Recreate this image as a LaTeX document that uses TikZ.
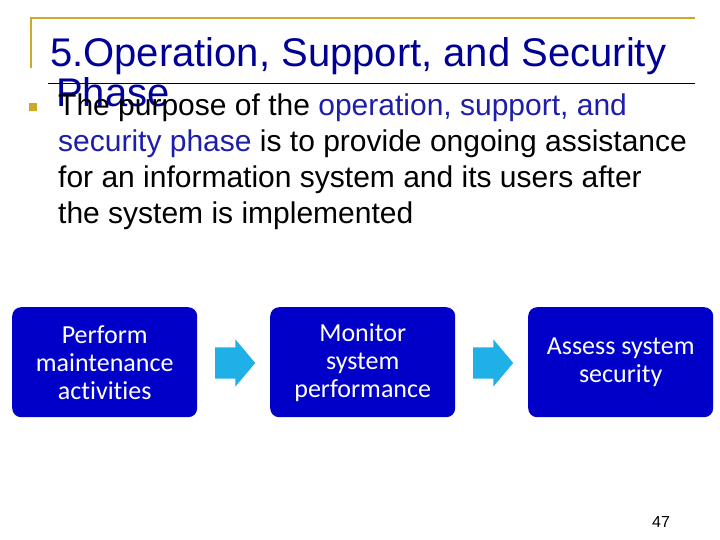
\documentclass[tikz,border=0pt]{standalone}
\usepackage{fontspec}
\setmainfont{Liberation Sans}
\newfontfamily\boxfont[Ligatures={NoCommon}]{Carlito}
\usetikzlibrary{shapes.arrows}
\definecolor{gold}{RGB}{204,170,40}
\definecolor{titleblue}{RGB}{0,0,150}
\definecolor{hlblue}{RGB}{30,30,170}
\definecolor{boxblue}{RGB}{0,0,200}
\definecolor{arrowcyan}{RGB}{30,176,230}
\begin{document}
\begin{tikzpicture}[x=1pt,y=-1pt,
  stepbox/.style={draw=none,fill=boxblue,rounded corners=9pt,minimum width=185pt,minimum height=110pt,text=white,align=center,font=\boxfont\fontsize{26}{28}\selectfont,anchor=north west,inner sep=0pt},
  blockarrow/.style={single arrow,fill=arrowcyan,draw=none,minimum height=40pt,inner xsep=0pt,inner ysep=15.5pt,single arrow head extend=8pt,single arrow tip angle=100,anchor=west},
  txt/.style={anchor=base west,inner sep=0pt}]
\useasboundingbox (0,0) rectangle (720,540);
\fill[white] (0,0) rectangle (720,540);
% frame
\draw[gold,line width=2.2pt] (31,68) -- (31,18) -- (695,18);
\draw[black,line width=0.6pt] (48,83) -- (695,83);
% title
\node[txt,text=titleblue,font=\fontsize{40}{42}\selectfont] (title1) at (50,67) {5.Operation, Support, and Security};
\node[txt,text=titleblue,font=\fontsize{40}{42}\selectfont] (title2) at (56,107) {Phase};
% bullet
\fill[gold] (29,103) rectangle (37,111);
\node[txt,font=\fontsize{30}{36}\selectfont] (l1) at (58,116) {The purpose of the \textcolor{hlblue}{operation, support, and}};
\node[txt,font=\fontsize{30}{36}\selectfont] (l2) at (58,152) {\textcolor{hlblue}{security phase} is to provide ongoing assistance};
\node[txt,font=\fontsize{30}{36}\selectfont] (l3) at (58,188) {for an information system and its users after};
\node[txt,font=\fontsize{30}{36}\selectfont] (l4) at (58,223) {the system is implemented};
% boxes
\node[stepbox] (b1) at (12,307) {Perform\\maintenance\\activities};
\node[stepbox] (b2) at (270,307) {Monitor\\system\\performance};
\node[stepbox] (b3) at (528,307) {Assess system\\security};
% arrows
\node[blockarrow] (a1) at (215,363) {};
\node[blockarrow] (a2) at (473,363) {};
% page number
\node[txt,font=\fontsize{16}{18}\selectfont] (pg) at (652,527) {47};
\end{tikzpicture}
\end{document}
